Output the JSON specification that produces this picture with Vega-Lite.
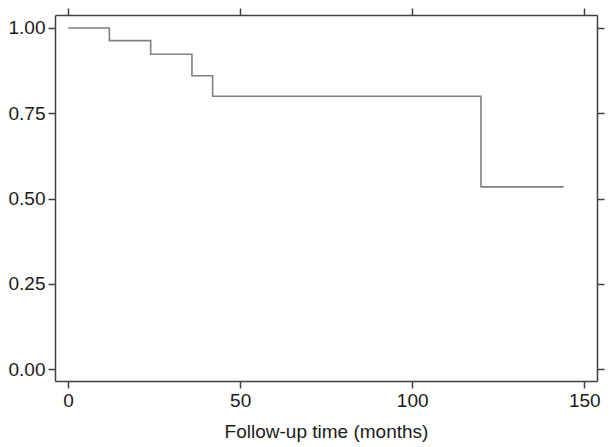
{
  "$schema": "https://vega.github.io/schema/vega-lite/v6.json",
  "width": 542,
  "height": 366,
  "autosize": "none",
  "padding": {"left": 55, "top": 15, "right": 17, "bottom": 66},
  "background": "white",
  "config": {
    "view": {"stroke": null},
    "font": "Liberation Sans",
    "axis": {
      "grid": false,
      "domainColor": "#404040",
      "domainWidth": 1.5,
      "tickColor": "#404040",
      "tickWidth": 1.5,
      "tickSize": 7,
      "labelFont": "Liberation Sans",
      "labelFontSize": 19,
      "labelColor": "#1a1a1a",
      "titleFont": "Liberation Sans",
      "titleFontSize": 19,
      "titleFontWeight": "normal",
      "titleColor": "#1a1a1a"
    }
  },
  "data": {
    "values": [
      {"time": 0, "surv": 1.0},
      {"time": 12, "surv": 0.963},
      {"time": 24, "surv": 0.923},
      {"time": 36, "surv": 0.86},
      {"time": 42, "surv": 0.8},
      {"time": 120, "surv": 0.534},
      {"time": 144, "surv": 0.534}
    ]
  },
  "layer": [
    {
      "mark": {"type": "line", "interpolate": "step-after", "color": "#808080", "strokeWidth": 1.6},
      "encoding": {
        "x": {
          "field": "time", "type": "quantitative",
          "scale": {"domain": [-3.8, 153.7], "nice": false, "zero": false},
          "axis": {"values": [0, 50, 100, 150], "title": "Follow-up time (months)", "labelPadding": 3, "titlePadding": 12}
        },
        "y": {
          "field": "surv", "type": "quantitative",
          "scale": {"domain": [-0.035, 1.038], "nice": false, "zero": false},
          "axis": {"values": [0, 0.25, 0.5, 0.75, 1], "format": ".2f", "title": null, "labelPadding": 3}
        }
      }
    },
    {
      "mark": {"type": "line", "opacity": 0},
      "encoding": {
        "x": {
          "field": "time", "type": "quantitative",
          "scale": {"domain": [-3.8, 153.7], "nice": false, "zero": false},
          "axis": {"orient": "top", "values": [0, 50, 100, 150], "labels": false, "title": null}
        },
        "y": {
          "field": "surv", "type": "quantitative",
          "scale": {"domain": [-0.035, 1.038], "nice": false, "zero": false},
          "axis": {"orient": "right", "values": [0, 0.25, 0.5, 0.75, 1], "labels": false, "title": null}
        }
      }
    }
  ],
  "resolve": {"axis": {"x": "independent", "y": "independent"}}
}
